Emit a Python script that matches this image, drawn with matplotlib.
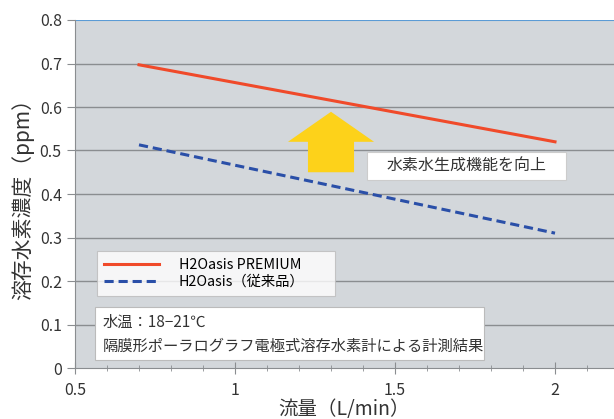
import matplotlib
matplotlib.use("Agg")
import matplotlib.pyplot as plt
from matplotlib.patches import FancyArrow, Rectangle
from matplotlib.lines import Line2D

plt.rcParams['font.family'] = ['Noto Sans CJK JP', 'DejaVu Sans']

flow = [0.7, 2.0]
premium = [0.697, 0.52]
old = [0.513, 0.31]
xticks = [0.5, 1, 1.5, 2]
xticklabels = ['0.5', '1', '1.5', '2']
yticks = [0, 0.1, 0.2, 0.3, 0.4, 0.5, 0.6, 0.7, 0.8]
yticklabels = ['0', '0.1', '0.2', '0.3', '0.4', '0.5', '0.6', '0.7', '0.8']

W, H = 614, 419
L, R, T, B = 75, 614, 20, 368
fig = plt.figure(figsize=(W/100, H/100), dpi=100)
ax = fig.add_axes([L/W, 1-B/H, (R-L)/W, (B-T)/H])
ax.set_facecolor('#d3d7db')
ax.set_xlim(0.5, 0.5 + (R-L)/320)
ax.set_ylim(0, 0.8)

def ax_frac(px, py):
    return (px-L)/(R-L), (B-py)/(B-T)

for y in yticks[1:-1]:
    ax.axhline(y, color='#8a8d90', lw=1.0, zorder=1)
ax.axhline(0.8, color='#5b9bd5', lw=1.5, zorder=2)

for s in ['top', 'right']:
    ax.spines[s].set_visible(False)
ax.spines['left'].set_color('#8a8d90')
ax.spines['bottom'].set_color('#8a8d90')

ax.set_xticks(xticks)
ax.set_xticklabels(xticklabels)
ax.set_xticks([0.6, 0.7, 0.8, 0.9, 1.1, 1.2, 1.3, 1.4, 1.6, 1.7, 1.8, 1.9, 2.1], minor=True)
ax.set_yticks(yticks)
ax.set_yticklabels(yticklabels)
ax.tick_params(axis='x', which='major', direction='inout', length=8, color='#8a8d90', labelsize=11.5, labelcolor='#333333', pad=6)
ax.tick_params(axis='x', which='minor', direction='inout', length=5, color='#8a8d90')
ax.tick_params(axis='y', direction='out', length=6, color='#8a8d90', labelsize=11.5, labelcolor='#333333')

ax.plot(flow, premium, color='#f04a2a', lw=2.2, zorder=4)
ax.plot(flow, old, color='#2a4fa8', lw=2.2, ls=(0, (3, 1.6)), zorder=4)

# Yellow arrow
arrow = FancyArrow(1.3, 0.45, 0, 0.139, width=0.144, head_width=0.269,
                   head_length=0.069, length_includes_head=True,
                   color='#fdd21a', ec='none', zorder=5)
ax.add_patch(arrow)

# Callout box
bx0, by0 = ax_frac(367, 180)
bx1, by1 = ax_frac(566, 152)
ax.add_patch(Rectangle((bx0, by0), bx1-bx0, by1-by0, transform=ax.transAxes,
                       fc='white', ec='#cccccc', lw=0.8, zorder=6))
ax.text((bx0+bx1)/2, (by0+by1)/2, '水素水生成機能を向上', fontsize=11.5, color='#333333',
        ha='center', va='center', zorder=7, transform=ax.transAxes)

# Legend box
h1 = Line2D([], [], color='#f04a2a', lw=2.2)
h2 = Line2D([], [], color='#2a4fa8', lw=2.2, ls=(0, (3, 1.6)))
lx0, ly0 = ax_frac(97, 303)
lx1, ly1 = ax_frac(335, 251)
leg = ax.legend([h1, h2], ['H2Oasis PREMIUM', 'H2Oasis（従来品）'],
                loc='upper left', bbox_to_anchor=(lx0, ly0, lx1-lx0, ly1-ly0),
                mode='expand', fontsize=10.3, frameon=True, fancybox=False,
                edgecolor='#bbbbbb', handlelength=3.8, handletextpad=1.4,
                borderpad=0.5, labelspacing=0.2, borderaxespad=0)
leg.get_frame().set_linewidth(0.8)
leg.set_zorder(6)

# Note box
nx0, ny0 = ax_frac(95, 360)
nx1, ny1 = ax_frac(484, 307)
ax.add_patch(Rectangle((nx0, ny0), nx1-nx0, ny1-ny0, transform=ax.transAxes,
                       fc='white', ec='#bbbbbb', lw=0.8, zorder=6))
tx, ty1 = ax_frac(103, 322)
_, ty2 = ax_frac(103, 346)
ax.text(tx, ty1, '水温：18−21℃', fontsize=11, color='#333333', va='center', zorder=7, transform=ax.transAxes)
ax.text(tx, ty2, '隔膜形ポーラログラフ電極式溶存水素計による計測結果', fontsize=11, color='#333333', va='center', zorder=7, transform=ax.transAxes)

ax.set_xlabel('流量（L/min）', fontsize=14, color='#333333', labelpad=0)
ax.set_ylabel('溶存水素濃度（ppm）', fontsize=15, color='#333333', labelpad=4)

fig.savefig('out.png', dpi=100)
